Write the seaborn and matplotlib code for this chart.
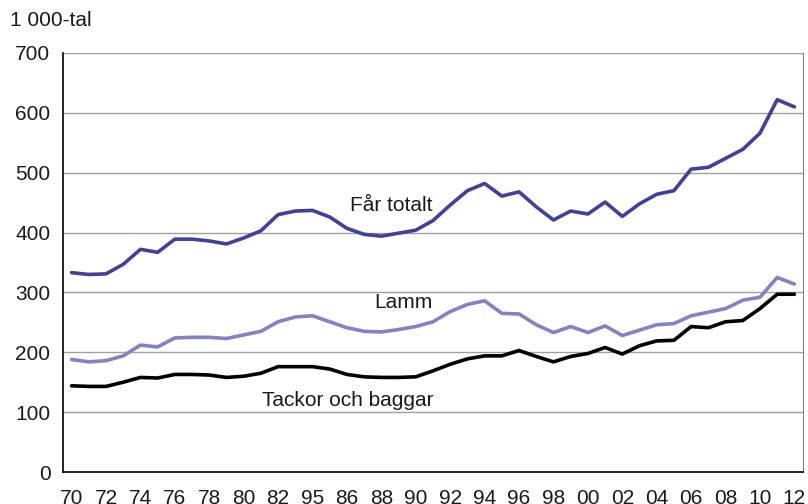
import numpy as np
import pandas as pd
import matplotlib
matplotlib.use("Agg")
import matplotlib.pyplot as plt
import seaborn as sns

# data, 1 000-tal
years = list(range(1970, 2013))
far_totalt = [333, 330, 331, 347, 372, 367, 389, 389, 386, 381,
              391, 403, 430, 436, 437, 426, 407, 397, 394, 399,
              404, 420, 446, 470, 482, 461, 468, 443, 421, 436,
              431, 451, 427, 448, 464, 470, 506, 509, 524, 539,
              566, 622, 610]
lamm = [188, 184, 186, 194, 212, 209, 224, 225, 225, 223,
        229, 235, 251, 259, 261, 251, 241, 235, 234, 238,
        243, 251, 268, 280, 286, 265, 264, 246, 233, 243,
        233, 244, 228, 237, 246, 248, 261, 267, 273, 287,
        292, 325, 314]
tackor = [144, 143, 143, 150, 158, 157, 163, 163, 162, 158,
          160, 165, 176, 176, 176, 172, 163, 159, 158, 158,
          159, 169, 180, 189, 194, 194, 203, 193, 184, 193,
          198, 208, 197, 211, 219, 220, 243, 241, 251, 253,
          273, 297, 297]
xlabels = ["70", "72", "74", "76", "78", "80", "82", "95", "86", "88", "90",
           "92", "94", "96", "98", "00", "02", "04", "06", "08", "10", "12"]
series = ["Får totalt", "Lamm", "Tackor och baggar"]
colors = ["#41419a", "#8282c4", "#000000"]

df = pd.DataFrame({"idx": np.arange(len(years)),
                   series[0]: far_totalt, series[1]: lamm, series[2]: tackor})
long = df.melt(id_vars="idx", var_name="serie", value_name="antal")

sns.set_style("white")
plt.rcParams["font.family"] = ["Liberation Sans", "DejaVu Sans"]

fig = plt.figure(figsize=(8.08, 5.04), dpi=100)
ax = fig.add_axes([63 / 808, 1 - 472 / 504, 740 / 808, 419 / 504])

sns.lineplot(data=long, x="idx", y="antal", hue="serie", hue_order=series,
             palette=colors, linewidth=2.6, legend=False, ax=ax)

ax.set_xlim(-0.5, len(years) - 0.5)
ax.set_ylim(0, 700)
ax.set_yticks(range(0, 701, 100))
ax.yaxis.grid(True, color="#a0a0a0", linewidth=1)
ax.set_axisbelow(True)

ax.set_xticks(range(0, len(years), 2))
ax.set_xticklabels(xlabels)
ax.set_xticks(np.arange(-0.5, len(years), 1), minor=True)
ax.tick_params(axis="x", which="major", length=0, labelsize=15, pad=12, colors="#1a1a1a")
ax.tick_params(axis="x", which="minor", length=5, width=1, color="#808080", direction="out")
ax.tick_params(axis="y", length=5, width=1, color="#808080", direction="out",
               labelsize=15, pad=4, labelcolor="#1a1a1a")
ax.set_xlabel("")
ax.set_ylabel("")

for side in ["left", "bottom"]:
    ax.spines[side].set_color("black")
    ax.spines[side].set_linewidth(1.2)
ax.spines["right"].set_color("#808080")
ax.spines["top"].set_visible(False)

# labels at the lines
ax.text(21, 446, "Får totalt", ha="right", va="center", fontsize=15, color="#1a1a1a")
ax.text(21, 283, "Lamm", ha="right", va="center", fontsize=15, color="#1a1a1a")
ax.text(21, 120, "Tackor och baggar", ha="right", va="center", fontsize=15, color="#1a1a1a")

fig.text(10 / 808, 1 - 20 / 504, "1 000-tal", ha="left", va="center",
         fontsize=15, color="#1a1a1a")

fig.savefig("out.png", dpi=100)
